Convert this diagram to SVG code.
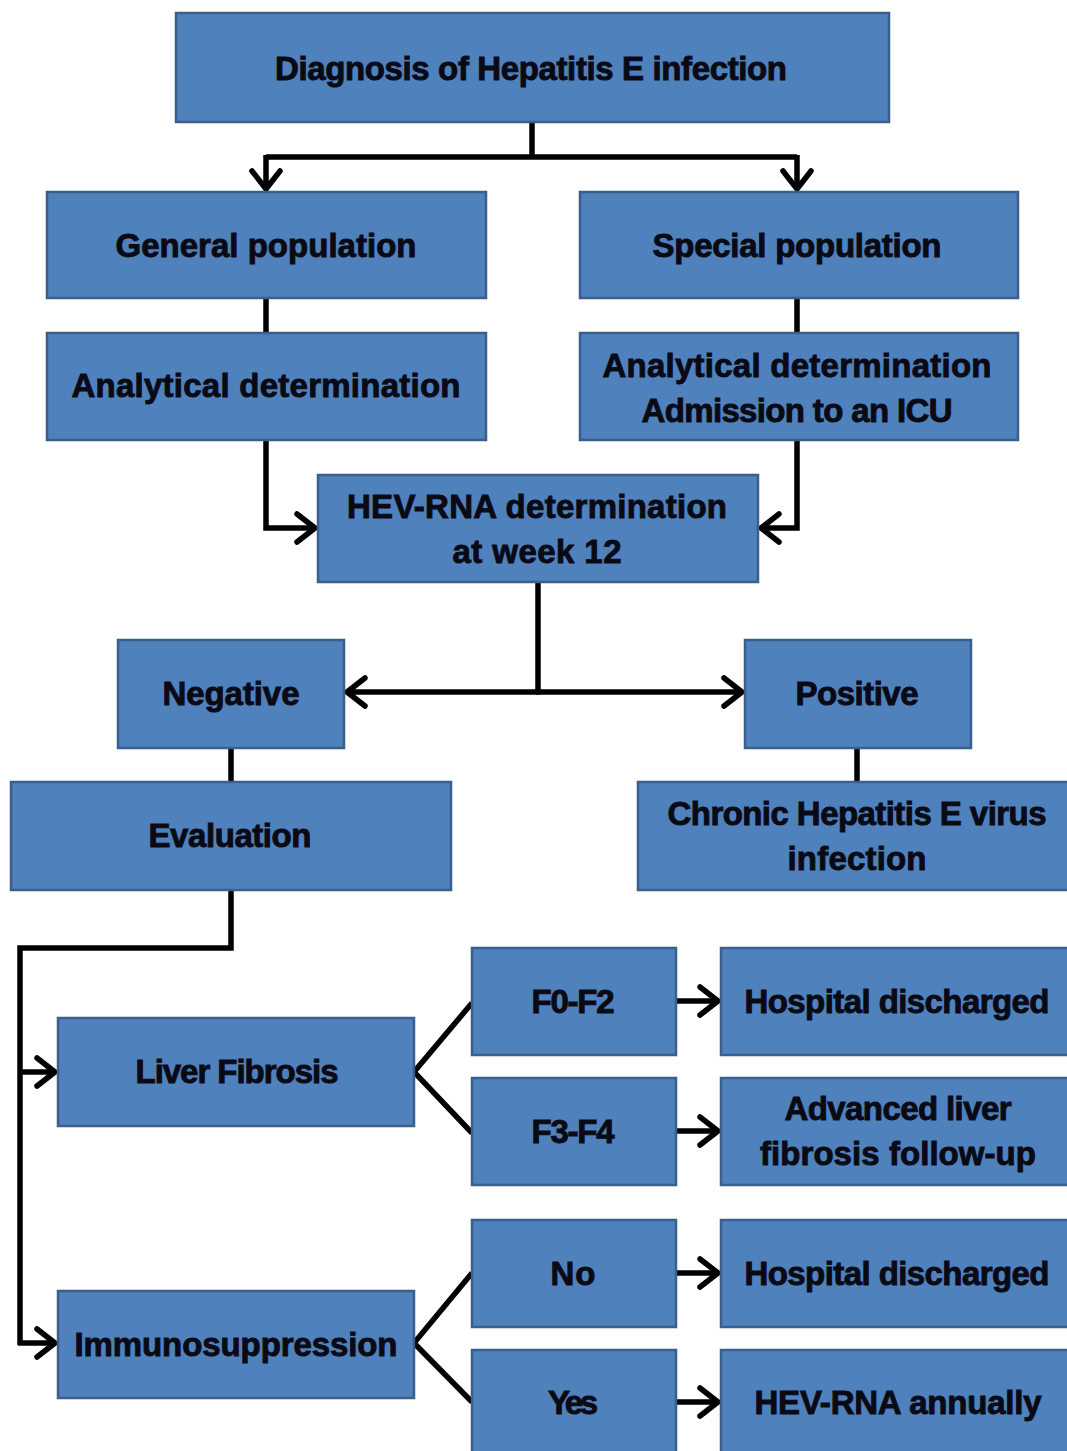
<svg xmlns="http://www.w3.org/2000/svg" width="1067" height="1451" viewBox="0 0 1067 1451">
<defs>
<style>
.box{fill:#4F81BD;stroke:#3A5F8C;stroke-width:2.5}
.t{font-family:"Liberation Sans",Arial,sans-serif;font-weight:bold;font-size:33px;fill:#0a0a14;stroke:#0a0a14;stroke-width:0.9;text-anchor:middle;lengthAdjust:spacingAndGlyphs}
.c{fill:none;stroke:#000;stroke-width:5.5;stroke-linejoin:miter}
.a{marker-end:url(#arr)}
</style>
<marker id="arr" markerUnits="userSpaceOnUse" markerWidth="32" markerHeight="36" viewBox="0 0 32 36" refX="25" refY="18" orient="auto">
<path d="M6,4 L24,18 L6,32" fill="none" stroke="#000" stroke-width="5.5" stroke-linecap="round" stroke-linejoin="round"/>
</marker>
</defs>
<rect width="1067" height="1451" fill="#fff"/>
<g id="connectors">
<path class="c" d="M532,122 V157 M266,157 H797"/>
<path class="c a" d="M266,155 V190"/>
<path class="c a" d="M797,155 V190"/>
<path class="c" d="M266,298 V333 M797,298 V333"/>
<path class="c a" d="M266,440 V528 H316"/>
<path class="c a" d="M797,440 V528 H760"/>
<path class="c" d="M538,582 V692"/>
<path class="c a" d="M540,692 H346"/>
<path class="c a" d="M536,692 H743"/>
<path class="c" d="M231,748 V782 M857,748 V782"/>
<path class="c" d="M231,890 V948 H20 V1345"/>
<path class="c a" d="M18,1072 H56"/>
<path class="c a" d="M18,1343 H56"/>
<path class="c" d="M472,1003 L414,1072 L472,1133"/>
<path class="c" d="M472,1273 L414,1343 L472,1402"/>
<path class="c a" d="M676,1001 H719"/>
<path class="c a" d="M676,1131 H719"/>
<path class="c a" d="M676,1273 H719"/>
<path class="c a" d="M676,1402 H719"/>
</g>
<g id="n-diagnosis"><rect class="box" x="176" y="13" width="713" height="109"/><text class="t" x="531" y="80" textLength="512">Diagnosis of Hepatitis E infection</text></g>
<g id="n-general"><rect class="box" x="47" y="192" width="439" height="106"/><text class="t" x="266" y="257" textLength="301">General population</text></g>
<g id="n-special"><rect class="box" x="580" y="192" width="438" height="106"/><text class="t" x="797" y="257" textLength="289">Special population</text></g>
<g id="n-analytical-g"><rect class="box" x="47" y="333" width="439" height="107"/><text class="t" x="266" y="397" textLength="389">Analytical determination</text></g>
<g id="n-analytical-s"><rect class="box" x="580" y="333" width="438" height="107"/><text class="t" x="797" y="377" textLength="389">Analytical determination</text><text class="t" x="797" y="422" textLength="311">Admission to an ICU</text></g>
<g id="n-hevrna"><rect class="box" x="318" y="475" width="440" height="107"/><text class="t" x="537" y="518" textLength="380">HEV-RNA determination</text><text class="t" x="537" y="563" textLength="169">at week 12</text></g>
<g id="n-negative"><rect class="box" x="118" y="640" width="226" height="108"/><text class="t" x="231" y="705" textLength="137">Negative</text></g>
<g id="n-positive"><rect class="box" x="745" y="640" width="226" height="108"/><text class="t" x="857" y="705" textLength="123">Positive</text></g>
<g id="n-evaluation"><rect class="box" x="11" y="782" width="440" height="108"/><text class="t" x="230" y="847" textLength="163">Evaluation</text></g>
<g id="n-chronic"><rect class="box" x="638" y="782" width="440" height="108"/><text class="t" x="857" y="825" textLength="379">Chronic Hepatitis E virus</text><text class="t" x="857" y="870" textLength="139">infection</text></g>
<g id="n-liver"><rect class="box" x="58" y="1018" width="356" height="108"/><text class="t" x="237" y="1083" textLength="203">Liver Fibrosis</text></g>
<g id="n-f0f2"><rect class="box" x="472" y="948" width="204" height="107"/><text class="t" x="573" y="1013" textLength="83">F0-F2</text></g>
<g id="n-discharged1"><rect class="box" x="721" y="948" width="360" height="107"/><text class="t" x="897" y="1013" textLength="305">Hospital discharged</text></g>
<g id="n-f3f4"><rect class="box" x="472" y="1078" width="204" height="107"/><text class="t" x="573" y="1143" textLength="83">F3-F4</text></g>
<g id="n-advanced"><rect class="box" x="721" y="1078" width="360" height="107"/><text class="t" x="898" y="1120" textLength="227">Advanced liver</text><text class="t" x="898" y="1165" textLength="276">fibrosis follow-up</text></g>
<g id="n-no"><rect class="box" x="472" y="1220" width="204" height="107"/><text class="t" x="573" y="1285" textLength="45">No</text></g>
<g id="n-discharged2"><rect class="box" x="721" y="1220" width="360" height="107"/><text class="t" x="897" y="1285" textLength="305">Hospital discharged</text></g>
<g id="n-immuno"><rect class="box" x="58" y="1291" width="356" height="107"/><text class="t" x="236" y="1356" textLength="323">Immunosuppression</text></g>
<g id="n-yes"><rect class="box" x="472" y="1350" width="204" height="110"/><text class="t" x="573" y="1414" textLength="50">Yes</text></g>
<g id="n-annually"><rect class="box" x="721" y="1350" width="360" height="110"/><text class="t" x="898" y="1414" textLength="287">HEV-RNA annually</text></g>
</svg>
